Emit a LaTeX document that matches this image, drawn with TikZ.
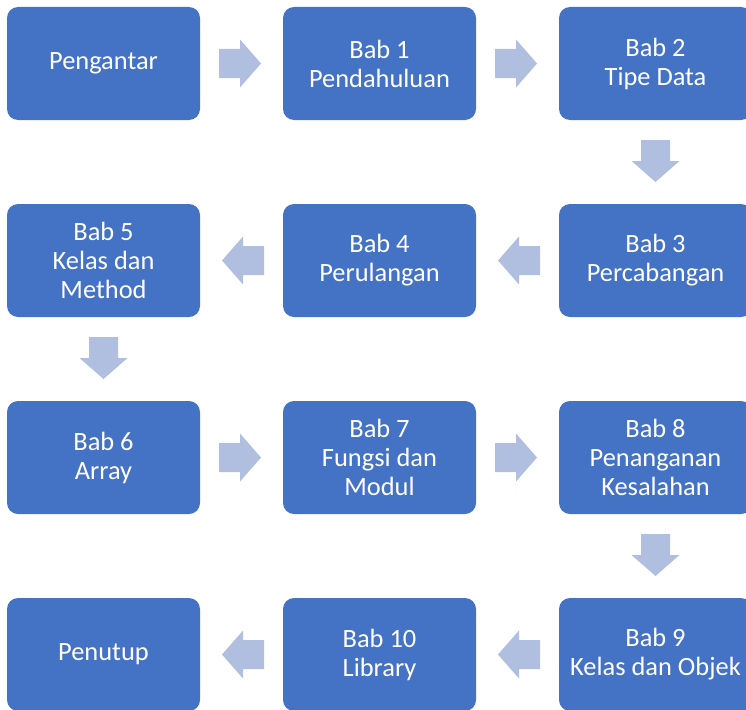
\documentclass[tikz,border=0pt]{standalone}
\usepackage{fontspec}
\setmainfont{Carlito}
\usetikzlibrary{calc}
\definecolor{boxblue}{HTML}{4472C4}
\definecolor{arrowblue}{HTML}{B0BEE0}
\tikzset{
  chap/.style={fill=boxblue, draw=none, rounded corners=11pt, minimum width=193pt, minimum height=113pt,
    inner sep=0pt, text=white, align=center, font=\fontsize{26.4}{29}\selectfont},
  blockarrow/.style={fill=arrowblue, draw=none}
}
\newcommand{\blockarrowat}[2]{%
  \fill[blockarrow, shift={(#1)}, rotate=#2] (-21,-14.5) -- (0,-14.5) -- (0,-24) -- (21,0) -- (0,24) -- (0,14.5) -- (-21,14.5) -- cycle;}
\begin{document}
\begin{tikzpicture}[x=1pt,y=-1pt]
\useasboundingbox (0,0) rectangle (746,709);
\clip (0,0) rectangle (746,709);
\node[chap] (p0) at (103.5,63.5) {Pengantar};
\node[chap] (b1) at (379.5,63.5) {Bab 1\\Pendahuluan};
\node[chap] (b2) at (655.5,63.5) {Bab 2\\Tipe Data};
\node[chap] (b3) at (655.5,260.5) {Bab 3\\Percabangan};
\node[chap] (b4) at (379.5,260.5) {Bab 4\\Perulangan};
\node[chap] (b5) at (103.5,260.5) {Bab 5\\Kelas dan\\Method};
\node[chap] (b6) at (103.5,457.5) {Bab 6\\Array};
\node[chap] (b7) at (379.5,457.5) {Bab 7\\Fungsi dan\\Modul};
\node[chap] (b8) at (655.5,457.5) {Bab 8\\Penanganan\\Kesalahan};
\node[chap] (b9) at (655.5,654.5) {Bab 9\\Kelas dan Objek};
\node[chap] (b10) at (379.5,654.5) {Bab 10\\Library};
\node[chap] (pt) at (103.5,654.5) {Penutup};
\coordinate (a1) at ($(p0)!0.5!(b1)+(-1.5,0)$);
\coordinate (a2) at ($(b1)!0.5!(b2)+(-1.5,0)$);
\coordinate (a3) at ($(b2)!0.5!(b3)+(0,-1)$);
\coordinate (a4) at ($(b3)!0.5!(b4)+(1.5,0)$);
\coordinate (a5) at ($(b4)!0.5!(b5)+(1.5,0)$);
\coordinate (a6) at ($(b5)!0.5!(b6)+(0,-1)$);
\coordinate (a7) at ($(b6)!0.5!(b7)+(-1.5,0)$);
\coordinate (a8) at ($(b7)!0.5!(b8)+(-1.5,0)$);
\coordinate (a9) at ($(b8)!0.5!(b9)+(0,-1)$);
\coordinate (a10) at ($(b9)!0.5!(b10)+(1.5,0)$);
\coordinate (a11) at ($(b10)!0.5!(pt)+(1.5,0)$);
\blockarrowat{a1}{0}
\blockarrowat{a2}{0}
\blockarrowat{a3}{-90}
\blockarrowat{a4}{180}
\blockarrowat{a5}{180}
\blockarrowat{a6}{-90}
\blockarrowat{a7}{0}
\blockarrowat{a8}{0}
\blockarrowat{a9}{-90}
\blockarrowat{a10}{180}
\blockarrowat{a11}{180}
\end{tikzpicture}
\end{document}
